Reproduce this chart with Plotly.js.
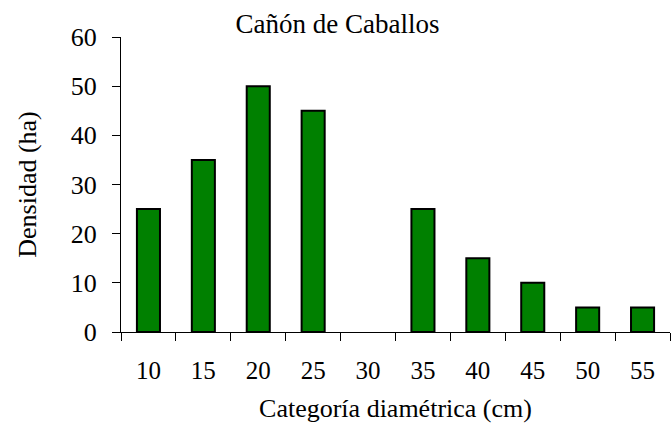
<!DOCTYPE html>
<html><head><meta charset="utf-8">
<script src="https://cdn.plot.ly/plotly-3.0.1.min.js"></script>
<style>html,body{margin:0;padding:0;background:#fff}#chart{width:671px;height:427px}</style>
</head><body><div id="chart"></div>
<script>
const categories = ["10","15","20","25","30","35","40","45","50","55"];
const densidad = [25,35,50,45,0,25,15,10,5,5];
const yTicks = [0,10,20,30,40,50,60];

const font = {family: "Liberation Serif", color: "#000"};
Plotly.newPlot("chart", [{
  type: "bar", x: categories, y: densidad, width: 0.42,
  marker: {color: "#008000", line: {color: "#000", width: densidad.map(v => v === 0 ? 0 : 2)}},
  hoverinfo: "none"
}], {
  width: 671, height: 427,
  margin: {l: 121, r: 1, t: 37, b: 95, pad: 0},
  paper_bgcolor: "#fff", plot_bgcolor: "#fff",
  font: Object.assign({size: 26}, font),
  showlegend: false,
  title: {text: "Cañón de Caballos", x: 0.503, xanchor: "center", y: 0.945, yanchor: "middle",
          font: Object.assign({size: 27}, font)},
  xaxis: {type: "category", tickson: "boundaries", ticks: "outside", ticklen: 8, tickwidth: 1,
          tickcolor: "#000", showline: true, linecolor: "#000", linewidth: 1, showgrid: false,
          zeroline: false, ticklabelstandoff: 16, tickfont: Object.assign({size: 25}, font),
          title: {text: "Categoría diamétrica (cm)", standoff: 15, font: Object.assign({size: 26}, font)}},
  yaxis: {range: [0, 60], tickvals: yTicks, ticks: "outside", ticklen: 8, tickwidth: 1,
          tickcolor: "#000", showline: true, linecolor: "#000", linewidth: 1, showgrid: false,
          zeroline: false, ticklabelstandoff: 10, tickfont: Object.assign({size: 26}, font),
          title: {text: "Densidad (ha)", standoff: 26, font: Object.assign({size: 26}, font)}}
}, {staticPlot: true});
</script></body></html>
